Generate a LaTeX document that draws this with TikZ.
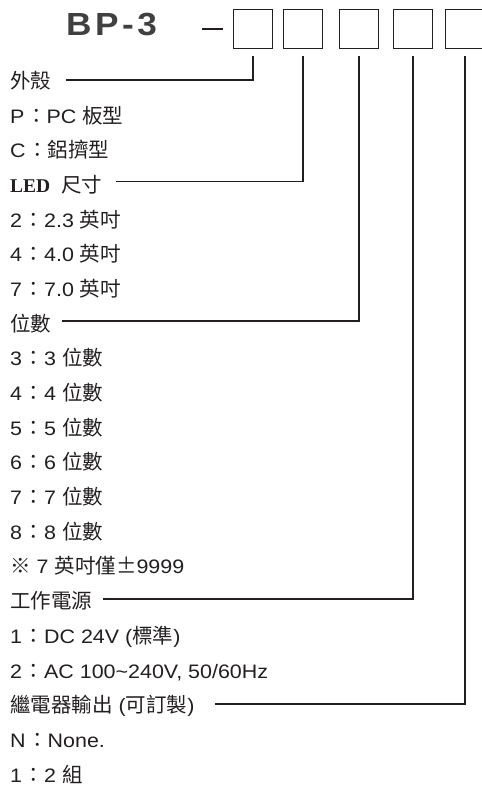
\documentclass[tikz,border=0pt]{standalone}
\usepackage{fontspec}
\setmainfont{Liberation Sans}[FakeStretch=1.1]
\newfontfamily\zhfont{Noto Sans CJK TC}[Language=Chinese Traditional]
\newfontfamily\ledfont{Liberation Serif}
\newfontfamily\titlefont{Liberation Sans}[FakeStretch=1.1,LetterSpace=11]
\newcommand\zhtxt[1]{{\zhfont\fontsize{20.5pt}{21pt}\selectfont #1}}
\newcommand\fwc{\hspace{1.5pt}\zhtxt{：}}
\usetikzlibrary{calc}
\definecolor{ink}{HTML}{231F20}
\definecolor{titlegray}{HTML}{404040}
\begin{document}
\begin{tikzpicture}[x=1pt,y=-1pt,
  lbl/.style={anchor=base west, inner sep=0pt, text=ink, font=\fontsize{19.5pt}{20pt}\selectfont},
  digitbox/.style={draw=ink, line width=1.9pt, minimum width=39pt, minimum height=39pt, inner sep=0pt},
  conn/.style={draw=ink, line width=1.8pt},
  titletext/.style={anchor=base west, inner sep=0pt, text=titlegray, font=\titlefont\bfseries\fontsize{32pt}{32pt}\selectfont}
]
\useasboundingbox (0,0) rectangle (482,785);

% title
\node[titletext] (title) at (66,35) {BP-3};
\draw[conn, line width=1.7pt] (202,29) -- (223,29);

% code boxes
\node[digitbox] (b1) at (253,29) {};
\node[digitbox] (b2) at (303,29) {};
\node[digitbox] (b3) at (359,29) {};
\node[digitbox] (b4) at (413,29) {};
\node[digitbox] (b5) at (465,29) {};

% labels
\node[lbl] (l0)  at (10, 88.50) {\zhtxt{外殼}};
\node[lbl] (l1)  at (10,123.20) {P\fwc PC \zhtxt{板型}};
\node[lbl] (l2)  at (10,157.85) {C\fwc\zhtxt{鋁擠型}};
\node[lbl] (l3)  at (10,192.50) {{\ledfont\bfseries LED}\hspace{5pt} \zhtxt{尺寸}};
\node[lbl] (l4)  at (10,227.20) {2\fwc 2.3 \zhtxt{英吋}};
\node[lbl] (l5)  at (10,261.90) {4\fwc 4.0 \zhtxt{英吋}};
\node[lbl] (l6)  at (10,296.55) {7\fwc 7.0 \zhtxt{英吋}};
\node[lbl] (l7)  at (10,331.25) {\zhtxt{位數}};
\node[lbl] (l8)  at (10,365.90) {3\fwc 3 \zhtxt{位數}};
\node[lbl] (l9)  at (10,400.60) {4\fwc 4 \zhtxt{位數}};
\node[lbl] (l10) at (10,435.25) {5\fwc 5 \zhtxt{位數}};
\node[lbl] (l11) at (10,469.95) {6\fwc 6 \zhtxt{位數}};
\node[lbl] (l12) at (10,504.60) {7\fwc 7 \zhtxt{位數}};
\node[lbl] (l13) at (10,539.30) {8\fwc 8 \zhtxt{位數}};
\node[lbl] (l14) at (10,573.95) {\zhtxt{※} 7 \zhtxt{英吋僅±}9999};
\node[lbl] (l15) at (10,608.65) {\zhtxt{工作電源}};
\node[lbl] (l16) at (10,643.30) {1\fwc DC 24V (\zhtxt{標準})};
\node[lbl] (l17) at (10,678.00) {2\fwc AC 100\textasciitilde240V, 50/60Hz};
\node[lbl] (l18) at (10,712.65) {\zhtxt{繼電器輸出} (\zhtxt{可訂製})};
\node[lbl] (l19) at (10,747.35) {N\fwc None.};
\node[lbl] (l20) at (10,782.00) {1\fwc 2 \zhtxt{組}};

% connectors
\draw[conn] ($(b1.south)+(0,-7pt)$) |- ($(l0.base east)+(15pt,8.5pt)$);
\draw[conn] ($(b2.south)+(0,-7pt)$) |- ($(l3.base east)+(14pt,11pt)$);
\draw[conn] ($(b3.south)+(0,-7pt)$) |- ($(l7.base east)+(11pt,10pt)$);
\draw[conn] ($(b4.south)+(0,-7pt)$) |- ($(l15.base east)+(11pt,10pt)$);
\draw[conn] ($(b5.south)+(0,-7pt)$) |- ($(l18.base east)+(20pt,9pt)$);
\end{tikzpicture}
\end{document}
